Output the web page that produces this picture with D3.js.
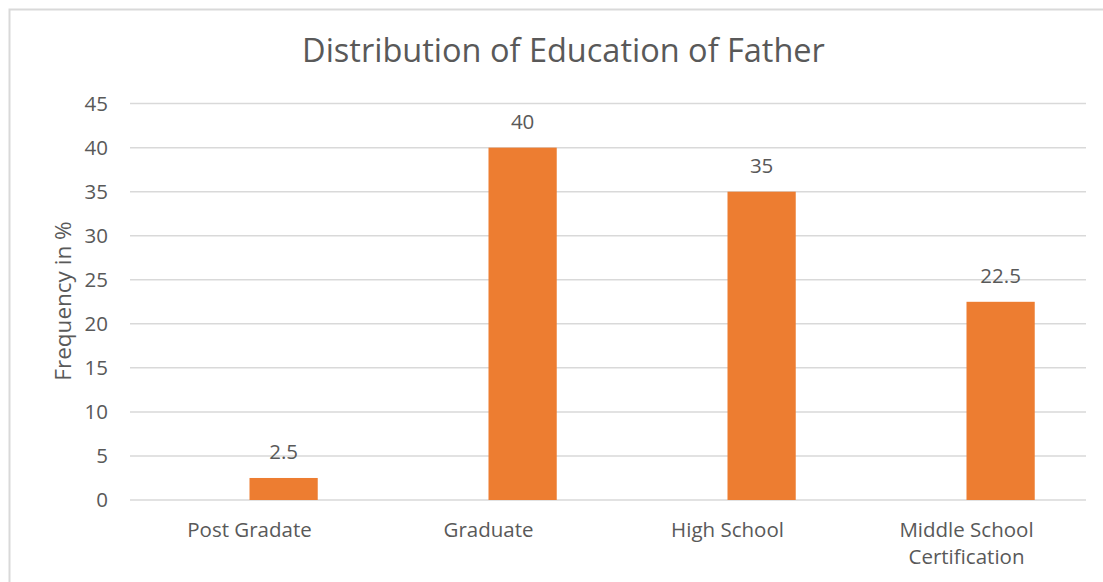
<!DOCTYPE html>
<html>
<head>
<meta charset="utf-8">
<script src="https://cdn.jsdelivr.net/npm/d3@7"></script>
<style>
  html, body { margin: 0; padding: 0; background: #fff; }
  svg { display: block; }
  text { font-family: "Open Sans", "Noto Sans", sans-serif; fill: #595959; }
</style>
</head>
<body>
<div id="chart"></div>
<script>
// Education level of father, share of respondents (%)
const categories = ["Post Gradate", "Graduate", "High School", "Middle School Certification"];
const frequency = [2.5, 40, 35, 22.5];
const yTicks = [0, 5, 10, 15, 20, 25, 30, 35, 40, 45];
const titleText = "Distribution of Education of Father";
const yAxisTitle = "Frequency in %";

const W = 1103, H = 582;
const margin = { left: 130, right: 17, top: 103.6, bottom: 82 };
const innerW = W - margin.left - margin.right;
const innerH = H - margin.top - margin.bottom;
const FONT = "'Open Sans', 'Noto Sans', sans-serif";
const LABEL_SIZE = 20.5;

const svg = d3.select("#chart").append("svg")
  .attr("width", W).attr("height", H);

// chart frame
svg.append("rect")
  .attr("x", 9.5).attr("y", 9.5)
  .attr("width", W + 20).attr("height", H + 20)
  .attr("fill", "#fff")
  .attr("stroke", "#D9D9D9").attr("stroke-width", 2);

const g = svg.append("g").attr("transform", `translate(${margin.left},${margin.top})`);

const x = d3.scaleBand().domain(categories).range([0, innerW]).paddingInner(0).paddingOuter(0);
// two slots per category; the frequency series occupies the right-hand slot
const slotW = x.bandwidth() * 0.2855;
const y = d3.scaleLinear().domain([0, 45]).range([innerH, 0]);

// horizontal gridlines
g.append("g").selectAll("line").data(yTicks).join("line")
  .attr("x1", 0).attr("x2", innerW)
  .attr("y1", d => y(d)).attr("y2", d => y(d))
  .attr("stroke", "#D9D9D9").attr("stroke-width", 1.5);

// y axis labels
const yAxis = d3.axisLeft(y).tickValues(yTicks).tickSize(0).tickPadding(22);
g.append("g").call(yAxis)
  .call(s => s.select(".domain").remove())
  .call(s => s.selectAll("text")
    .style("font-family", FONT)
    .attr("font-size", LABEL_SIZE).attr("fill", "#595959"));

// bars
g.append("g").selectAll("rect").data(frequency).join("rect")
  .attr("x", (d, i) => x(categories[i]) + x.bandwidth() / 2)
  .attr("y", d => y(d))
  .attr("width", slotW)
  .attr("height", d => y(0) - y(d))
  .attr("fill", "#ED7D31");

// value labels
g.append("g").selectAll("text").data(frequency).join("text")
  .attr("x", (d, i) => x(categories[i]) + x.bandwidth() / 2 + slotW / 2)
  .attr("y", d => y(d) - 18.5)
  .attr("text-anchor", "middle")
  .attr("font-size", LABEL_SIZE)
  .text(d => d);

// category labels, wrapped to two lines for the long one
const catG = g.append("g");
categories.forEach(c => {
  const lines = c === "Middle School Certification" ? ["Middle School", "Certification"] : [c];
  const t = catG.append("text")
    .attr("x", x(c) + x.bandwidth() / 2)
    .attr("y", innerH + 37)
    .attr("text-anchor", "middle")
    .attr("font-size", LABEL_SIZE);
  lines.forEach((l, k) => {
    t.append("tspan").attr("x", x(c) + x.bandwidth() / 2)
      .attr("dy", k === 0 ? 0 : 27.5).text(l);
  });
});

// title
svg.append("text")
  .attr("x", (303 + 824) / 2).attr("y", 62)
  .attr("text-anchor", "middle")
  .attr("font-size", 32.5)
  .text(titleText);

// y axis title
svg.append("text")
  .attr("transform", "translate(71,301) rotate(-90)")
  .attr("text-anchor", "middle")
  .attr("font-size", 22.5)
  .text(yAxisTitle);
</script>
</body>
</html>
